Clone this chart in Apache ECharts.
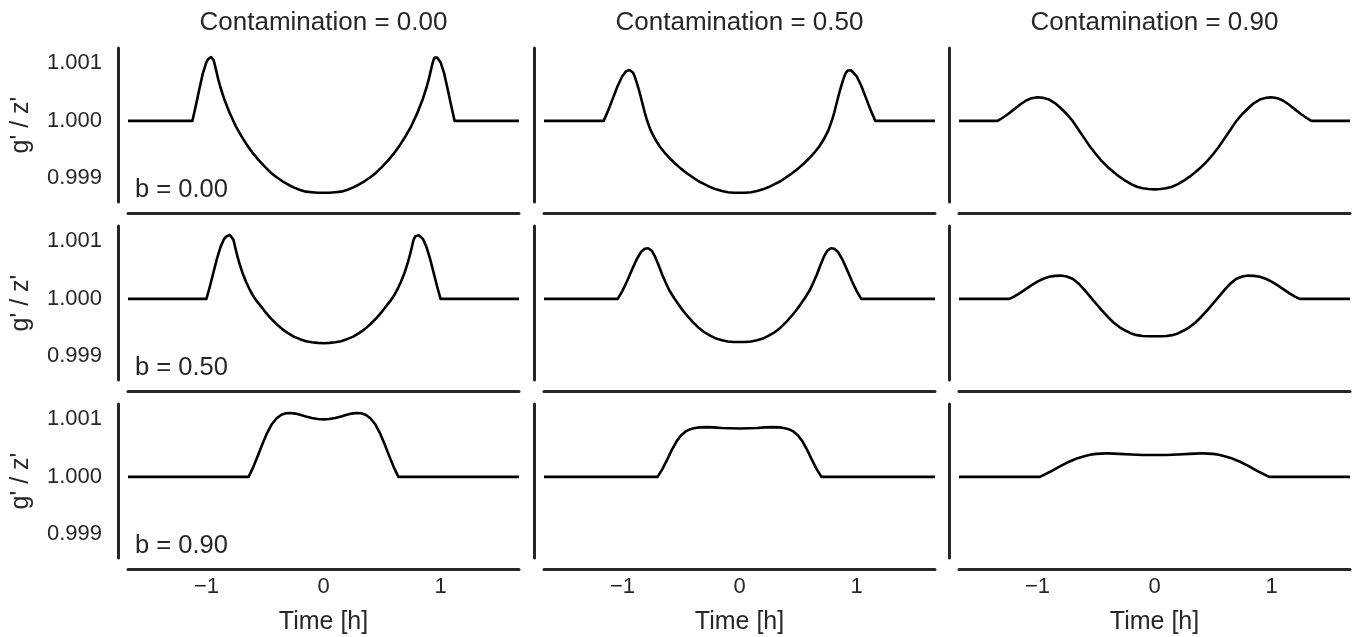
<!DOCTYPE html>
<html>
<head>
<meta charset="utf-8">
<title>g'/z' transit ratio grid</title>
<script src="https://cdn.jsdelivr.net/npm/echarts@6/dist/echarts.min.js"></script>
<style>
  html, body { margin: 0; padding: 0; background: #ffffff; }
  #chart { width: 1362px; height: 637px; }
</style>
</head>
<body>
<div id="chart"></div>
<script>
// Column facets (contamination) and row facets (impact parameter b)
const contaminations = ['0.00', '0.50', '0.90'];
const impacts = ['0.00', '0.50', '0.90'];
const xTicks = [-1, 0, 1];
const yTicks = [0.999, 1.000, 1.001];

// [time (h), g'/z'] for each facet; row = b, column = contamination
const b000_c000 = [
  [-1.67, 1.00000], [-1.12, 1.00000], [-1.09, 1.00027], [-1.06, 1.00056], [-1.03, 1.00083],
  [-1.00, 1.00102], [-0.985, 1.001075], [-0.97, 1.00110], [-0.96, 1.00111], [-0.95, 1.00110],
  [-0.94, 1.00106], [-0.93, 1.00099], [-0.915, 1.00086], [-0.90, 1.00073], [-0.88, 1.00058],
  [-0.85, 1.00039], [-0.80, 1.00013], [-0.75, 0.99991],
  [-0.70, 0.99973], [-0.65, 0.99957], [-0.60, 0.99943], [-0.55, 0.99931], [-0.50, 0.99920],
  [-0.45, 0.99910], [-0.40, 0.99902], [-0.35, 0.99895], [-0.30, 0.99889], [-0.25, 0.99884],
  [-0.20, 0.99880], [-0.15, 0.99877], [-0.10, 0.99876], [-0.05, 0.99875], [0.00, 0.99875],
  [0.05, 0.99875], [0.10, 0.99876], [0.15, 0.99877], [0.20, 0.99880], [0.25, 0.99884],
  [0.30, 0.99889], [0.35, 0.99895], [0.40, 0.99902], [0.45, 0.99910], [0.50, 0.99920],
  [0.55, 0.99931], [0.60, 0.99943], [0.65, 0.99957], [0.70, 0.99973], [0.75, 0.99991],
  [0.80, 1.00013], [0.85, 1.00039], [0.88, 1.00058], [0.90, 1.00073], [0.915, 1.00086],
  [0.93, 1.00099], [0.94, 1.00106], [0.95, 1.00110], [0.96, 1.00111], [0.97, 1.00110],
  [0.985, 1.001075], [1.00, 1.00102], [1.03, 1.00083],
  [1.06, 1.00056], [1.09, 1.00027], [1.12, 1.00000], [1.67, 1.00000]
];
const b000_c050 = [
  [-1.67, 1.00000], [-1.16, 1.00000], [-1.12, 1.00019], [-1.08, 1.00040], [-1.04, 1.00061],
  [-1.00, 1.00078], [-0.97, 1.00086], [-0.955, 1.00088], [-0.94, 1.000885], [-0.925, 1.000875],
  [-0.91, 1.00084], [-0.895, 1.00077], [-0.88, 1.00068], [-0.865, 1.00058], [-0.85, 1.00047],
  [-0.83, 1.00031], [-0.81, 1.00015], [-0.79, 1.00001], [-0.76, 0.99984], [-0.72, 0.99968],
  [-0.68, 0.99955], [-0.64, 0.99945], [-0.60, 0.99936],
  [-0.55, 0.99926], [-0.50, 0.99917], [-0.45, 0.99909], [-0.40, 0.99902], [-0.35, 0.99895],
  [-0.30, 0.99890], [-0.25, 0.99885], [-0.20, 0.99881], [-0.15, 0.99878], [-0.10, 0.99876],
  [-0.05, 0.99875], [0.00, 0.99875], [0.05, 0.99875], [0.10, 0.99876], [0.15, 0.99878],
  [0.20, 0.99881], [0.25, 0.99885], [0.30, 0.99890], [0.35, 0.99895], [0.40, 0.99902],
  [0.45, 0.99909], [0.50, 0.99917], [0.55, 0.99926], [0.60, 0.99936], [0.64, 0.99945],
  [0.68, 0.99955], [0.72, 0.99968], [0.76, 0.99984], [0.79, 1.00001], [0.81, 1.00015],
  [0.83, 1.00031], [0.85, 1.00047], [0.865, 1.00058], [0.88, 1.00068], [0.895, 1.00077],
  [0.91, 1.00084], [0.925, 1.000875], [0.94, 1.000885], [0.955, 1.00088], [0.97, 1.00086],
  [1.00, 1.00078], [1.04, 1.00061], [1.08, 1.00040],
  [1.12, 1.00019], [1.16, 1.00000], [1.67, 1.00000]
];
const b000_c090 = [
  [-1.67, 1.00000], [-1.34, 1.00000], [-1.30, 1.00005], [-1.25, 1.00012], [-1.20, 1.00020],
  [-1.15, 1.00028], [-1.10, 1.00035], [-1.05, 1.000395], [-1.00, 1.00041], [-0.95, 1.00040],
  [-0.90, 1.00037], [-0.85, 1.00031], [-0.80, 1.00022], [-0.75, 1.00012], [-0.70, 1.00000],
  [-0.65, 0.99985], [-0.60, 0.99970], [-0.55, 0.99955], [-0.50, 0.99942], [-0.45, 0.99930],
  [-0.40, 0.99920], [-0.35, 0.99911], [-0.30, 0.99903], [-0.25, 0.99896], [-0.20, 0.99890],
  [-0.15, 0.998855], [-0.10, 0.99883], [-0.05, 0.998815], [0.00, 0.99881], [0.05, 0.998815],
  [0.10, 0.99883], [0.15, 0.998855], [0.20, 0.99890], [0.25, 0.99896], [0.30, 0.99903],
  [0.35, 0.99911], [0.40, 0.99920], [0.45, 0.99930], [0.50, 0.99942], [0.55, 0.99955],
  [0.60, 0.99970], [0.65, 0.99985], [0.70, 1.00000], [0.75, 1.00012], [0.80, 1.00022],
  [0.85, 1.00031], [0.90, 1.00037], [0.95, 1.00040], [1.00, 1.00041], [1.05, 1.000395],
  [1.10, 1.00035], [1.15, 1.00028], [1.20, 1.00020], [1.25, 1.00012], [1.30, 1.00005],
  [1.34, 1.00000], [1.67, 1.00000]
];
const b050_c000 = [
  [-1.67, 1.00000], [-1.00, 1.00000], [-0.97, 1.00022], [-0.94, 1.00046], [-0.91, 1.00070],
  [-0.88, 1.00090], [-0.85, 1.00104], [-0.83, 1.001085], [-0.815, 1.001105], [-0.80, 1.00111],
  [-0.785, 1.00109], [-0.77, 1.00103], [-0.76, 1.00095], [-0.75, 1.00086], [-0.735, 1.00074],
  [-0.72, 1.00063], [-0.69, 1.00044], [-0.66, 1.00029], [-0.63, 1.00016], [-0.60, 1.00005],
  [-0.57, 0.99996], [-0.53, 0.99986], [-0.50, 0.99978],
  [-0.45, 0.99966], [-0.40, 0.99956], [-0.35, 0.99947], [-0.30, 0.99940], [-0.25, 0.99934],
  [-0.20, 0.99930], [-0.15, 0.999265], [-0.10, 0.999245], [-0.05, 0.999235], [0.00, 0.99923],
  [0.05, 0.999235], [0.10, 0.999245], [0.15, 0.999265], [0.20, 0.99930], [0.25, 0.99934],
  [0.30, 0.99940], [0.35, 0.99947], [0.40, 0.99956], [0.45, 0.99966], [0.50, 0.99978],
  [0.53, 0.99986], [0.57, 0.99996], [0.60, 1.00005], [0.63, 1.00016], [0.66, 1.00029],
  [0.69, 1.00044], [0.72, 1.00063], [0.735, 1.00074], [0.75, 1.00086], [0.76, 1.00095],
  [0.77, 1.00103], [0.785, 1.00109], [0.80, 1.00111], [0.815, 1.001105], [0.83, 1.001085],
  [0.85, 1.00104], [0.88, 1.00090], [0.91, 1.00070],
  [0.94, 1.00046], [0.97, 1.00022], [1.00, 1.00000], [1.67, 1.00000]
];
const b050_c050 = [
  [-1.67, 1.00000], [-1.04, 1.00000], [-1.00, 1.00014], [-0.96, 1.00031], [-0.92, 1.00050],
  [-0.88, 1.00068], [-0.84, 1.00082], [-0.81, 1.00087], [-0.78, 1.00088], [-0.75, 1.00084],
  [-0.72, 1.00073], [-0.69, 1.00058], [-0.66, 1.00042], [-0.63, 1.00028], [-0.60, 1.00015],
  [-0.56, 1.00002], [-0.52, 0.99990], [-0.48, 0.99979], [-0.44, 0.99969], [-0.40, 0.99960],
  [-0.35, 0.99950], [-0.30, 0.99942], [-0.25, 0.99936], [-0.20, 0.99931], [-0.15, 0.99928],
  [-0.10, 0.99926], [-0.05, 0.99925], [0.00, 0.99925], [0.05, 0.99925], [0.10, 0.99926],
  [0.15, 0.99928], [0.20, 0.99931], [0.25, 0.99936], [0.30, 0.99942], [0.35, 0.99950],
  [0.40, 0.99960], [0.44, 0.99969], [0.48, 0.99979], [0.52, 0.99990], [0.56, 1.00002],
  [0.60, 1.00015], [0.63, 1.00028], [0.66, 1.00042], [0.69, 1.00058], [0.72, 1.00073],
  [0.75, 1.00084], [0.78, 1.00088], [0.81, 1.00087], [0.84, 1.00082], [0.88, 1.00068],
  [0.92, 1.00050], [0.96, 1.00031], [1.00, 1.00014], [1.04, 1.00000], [1.67, 1.00000]
];
const b050_c090 = [
  [-1.67, 1.00000], [-1.24, 1.00000], [-1.20, 1.00004], [-1.15, 1.00010], [-1.10, 1.00017],
  [-1.05, 1.00024], [-1.00, 1.00030], [-0.95, 1.00035], [-0.90, 1.000385], [-0.85, 1.00040],
  [-0.80, 1.000405], [-0.75, 1.00039], [-0.70, 1.00035], [-0.65, 1.00027], [-0.60, 1.00016],
  [-0.55, 1.00004], [-0.50, 0.99992], [-0.45, 0.99980], [-0.40, 0.99969], [-0.35, 0.99959],
  [-0.30, 0.99951], [-0.25, 0.99945], [-0.20, 0.99940], [-0.15, 0.99937], [-0.10, 0.999355],
  [-0.05, 0.99935], [0.00, 0.99935], [0.05, 0.99935], [0.10, 0.999355], [0.15, 0.99937],
  [0.20, 0.99940], [0.25, 0.99945], [0.30, 0.99951], [0.35, 0.99959], [0.40, 0.99969],
  [0.45, 0.99980], [0.50, 0.99992], [0.55, 1.00004], [0.60, 1.00016], [0.65, 1.00027],
  [0.70, 1.00035], [0.75, 1.00039], [0.80, 1.000405], [0.85, 1.00040], [0.90, 1.000385],
  [0.95, 1.00035], [1.00, 1.00030], [1.05, 1.00024], [1.10, 1.00017], [1.15, 1.00010],
  [1.20, 1.00004], [1.24, 1.00000], [1.67, 1.00000]
];
const b090_c000 = [
  [-1.67, 1.00000], [-0.64, 1.00000], [-0.60, 1.00017], [-0.56, 1.00037], [-0.52, 1.00058],
  [-0.48, 1.00077], [-0.44, 1.00092], [-0.40, 1.00102], [-0.36, 1.00108], [-0.32, 1.001105],
  [-0.28, 1.00111], [-0.24, 1.00110], [-0.20, 1.00108], [-0.15, 1.00105], [-0.10, 1.001025],
  [-0.05, 1.001005], [0.00, 1.00100], [0.05, 1.001005], [0.10, 1.001025], [0.15, 1.00105],
  [0.20, 1.00108], [0.24, 1.00110], [0.28, 1.00111], [0.32, 1.001105], [0.36, 1.00108],
  [0.40, 1.00102], [0.44, 1.00092], [0.48, 1.00077], [0.52, 1.00058], [0.56, 1.00037],
  [0.60, 1.00017], [0.64, 1.00000], [1.67, 1.00000]
];
const b090_c050 = [
  [-1.67, 1.00000], [-0.70, 1.00000], [-0.66, 1.00013], [-0.62, 1.00029], [-0.58, 1.00046],
  [-0.54, 1.00061], [-0.50, 1.00072], [-0.46, 1.00079], [-0.42, 1.00083], [-0.38, 1.00085],
  [-0.34, 1.00086], [-0.28, 1.000865], [-0.22, 1.00086], [-0.15, 1.00085], [-0.08, 1.000845],
  [0.00, 1.00084], [0.08, 1.000845], [0.15, 1.00085], [0.22, 1.00086], [0.28, 1.000865],
  [0.34, 1.00086], [0.38, 1.00085], [0.42, 1.00083], [0.46, 1.00079], [0.50, 1.00072],
  [0.54, 1.00061], [0.58, 1.00046], [0.62, 1.00029], [0.66, 1.00013], [0.70, 1.00000],
  [1.67, 1.00000]
];
const b090_c090 = [
  [-1.67, 1.00000], [-0.98, 1.00000], [-0.94, 1.00004], [-0.90, 1.00008], [-0.85, 1.000135],
  [-0.80, 1.00019], [-0.75, 1.000245], [-0.70, 1.00029], [-0.65, 1.00033], [-0.60, 1.00036],
  [-0.55, 1.000385], [-0.50, 1.00040], [-0.45, 1.000405], [-0.40, 1.00041], [-0.35, 1.000405],
  [-0.30, 1.00040], [-0.20, 1.00039], [-0.10, 1.00038], [0.00, 1.00038], [0.10, 1.00038],
  [0.20, 1.00039], [0.30, 1.00040], [0.35, 1.000405], [0.40, 1.00041], [0.45, 1.000405],
  [0.50, 1.00040], [0.55, 1.000385], [0.60, 1.00036], [0.65, 1.00033], [0.70, 1.00029],
  [0.75, 1.000245], [0.80, 1.00019], [0.85, 1.000135], [0.90, 1.00008], [0.94, 1.00004],
  [0.98, 1.00000], [1.67, 1.00000]
];

const facetData = [
  [b000_c000, b000_c050, b000_c090],
  [b050_c000, b050_c050, b050_c090],
  [b090_c000, b090_c050, b090_c090]
];

// Panel layout
const FONT = '"Liberation Sans", Arial, Helvetica, sans-serif';
const INK = '#262626';
const colLeft = [128, 544, 959];
const rowTop = [48, 226, 404];
const panelW = 391;
const panelH = 154;
const X_MIN = -1.67, X_MAX = 1.67;
const Y_MIN = 0.99859, Y_MAX = 1.001267;

const fmtX = v => (v < 0 ? '\u2212' + Math.abs(v) : String(v));
const fmtY = v => v.toFixed(3);

const grids = [], xAxes = [], yAxes = [], series = [], graphics = [];

for (let r = 0; r < 3; r++) {
  for (let c = 0; c < 3; c++) {
    const idx = r * 3 + c;
    grids.push({ left: colLeft[c], top: rowTop[r], width: panelW, height: panelH, containLabel: false });
    const bottomRow = r === 2;
    const firstCol = c === 0;
    xAxes.push({
      gridIndex: idx, type: 'value', min: X_MIN, max: X_MAX, position: 'bottom', offset: 11,
      axisLine: { show: true, onZero: false, lineStyle: { color: INK, width: 3 } },
      axisTick: { show: false }, splitLine: { show: false },
      axisLabel: {
        show: bottomRow, customValues: xTicks, formatter: fmtX, margin: 7,
        color: INK, fontSize: 22, fontFamily: FONT
      },
      name: bottomRow ? 'Time [h]' : '', nameLocation: 'middle', nameGap: 41,
      nameTextStyle: { color: INK, fontSize: 25, fontFamily: FONT }
    });
    yAxes.push({
      gridIndex: idx, type: 'value', min: Y_MIN, max: Y_MAX, position: 'left', offset: 10,
      axisLine: { show: true, onZero: false, lineStyle: { color: INK, width: 3 } },
      axisTick: { show: false }, splitLine: { show: false },
      axisLabel: {
        show: firstCol, customValues: yTicks, formatter: fmtY, margin: 16,
        color: INK, fontSize: 22, fontFamily: FONT
      },
      name: firstCol ? "g' / z'" : '', nameLocation: 'middle', nameGap: 84,
      nameTextStyle: { color: INK, fontSize: 25, fontFamily: FONT }
    });
    series.push({
      type: 'line', xAxisIndex: idx, yAxisIndex: idx, data: facetData[r][c],
      showSymbol: false, smooth: false, clip: false,
      lineStyle: { color: '#000000', width: 2.6, join: 'round' }
    });
  }
}

// Column titles
for (let c = 0; c < 3; c++) {
  graphics.push({
    type: 'text', x: colLeft[c] + panelW / 2, y: 23,
    style: {
      text: 'Contamination = ' + contaminations[c], fill: INK, font: '26px ' + FONT,
      align: 'center', verticalAlign: 'middle', textAlign: 'center', textVerticalAlign: 'middle'
    }
  });
}
// Row annotations inside the first column
for (let r = 0; r < 3; r++) {
  graphics.push({
    type: 'text', x: 135, y: rowTop[r] + panelH + 1,
    style: {
      text: 'b = ' + impacts[r], fill: INK, font: '25.5px ' + FONT,
      align: 'left', verticalAlign: 'bottom', textAlign: 'left', textVerticalAlign: 'bottom'
    }
  });
}

const chart = echarts.init(document.getElementById('chart'), null, { renderer: 'canvas' });
chart.setOption({
  animation: false,
  backgroundColor: '#ffffff',
  grid: grids,
  xAxis: xAxes,
  yAxis: yAxes,
  series: series,
  graphic: graphics
});
</script>
</body>
</html>
